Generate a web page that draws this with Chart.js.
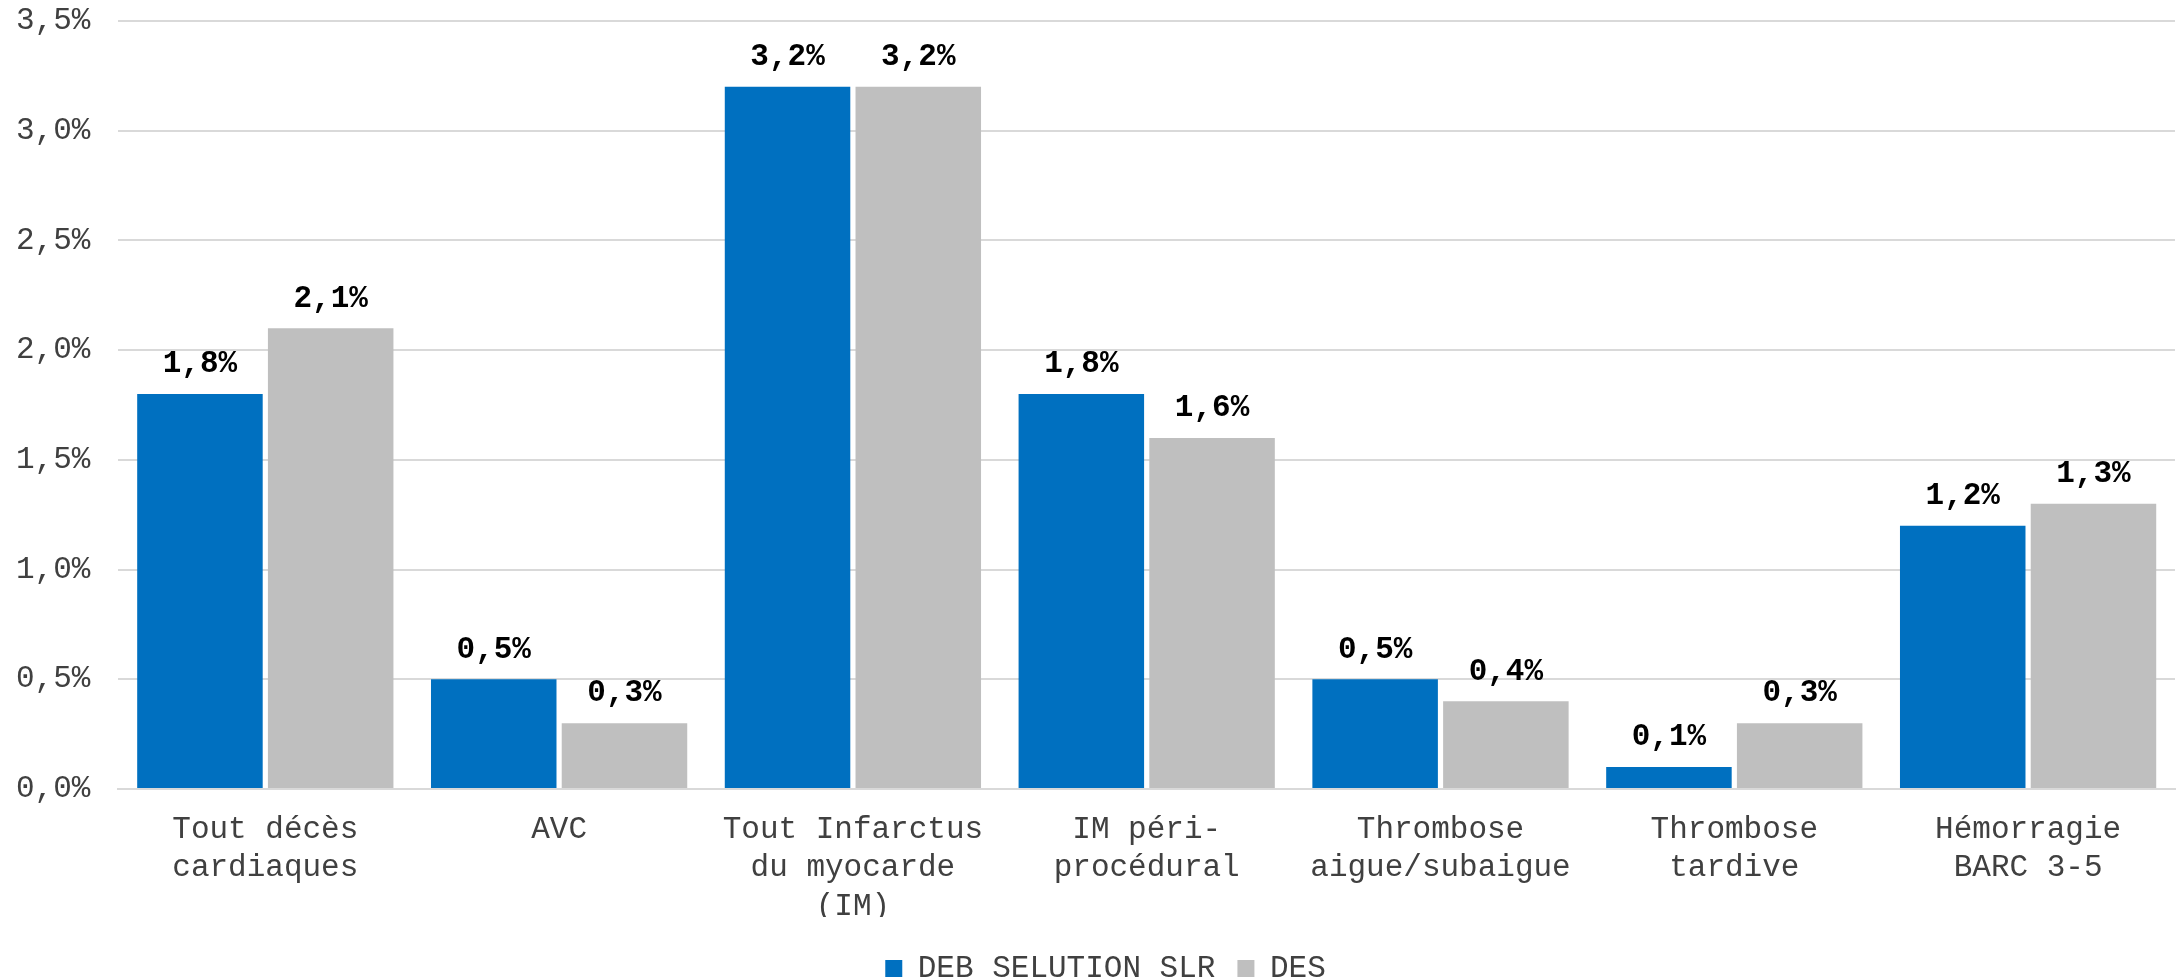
<!DOCTYPE html>
<html>
<head>
    <meta charset="UTF-8">
    <title>Événements cliniques</title>
    <script src="https://cdn.jsdelivr.net/npm/chart.js"></script>
    <style>
       html, body {
           margin: 0;
           padding: 0;
           background: #fff;
       }
       .chart-container {
           width: 2178px;
           height: 980px;
       }
   </style>
</head>
<body>
   <div class="chart-container">
       <canvas id="eventsChart"></canvas>
   </div>

    <script>
    // categories
    const categories = [
        ['Tout décès', 'cardiaques'],
        'AVC',
        ['Tout Infarctus', 'du myocarde', '(IM)'],
        ['IM péri-', 'procédural'],
        ['Thrombose', 'aigue/subaigue'],
        ['Thrombose', 'tardive'],
        ['Hémorragie', 'BARC 3-5']
    ];
    const seriesNames = ['DEB SELUTION SLR', 'DES'];
    const debValues = [1.8, 0.5, 3.2, 1.8, 0.5, 0.1, 1.2];
    const desValues = [2.1, 0.3, 3.2, 1.6, 0.4, 0.3, 1.3];
    const yTicks = [0, 0.5, 1.0, 1.5, 2.0, 2.5, 3.0, 3.5];

    const FONT = "'Liberation Mono', 'DejaVu Sans Mono', monospace";

    function fmt(v) {
        return v.toFixed(1).replace('.', ',') + '%';
    }

    // value labels above bars
    const valueLabels = {
        id: 'valueLabels',
        afterLayout(chart) {
            // push the legend a bit lower / right, like the original
            chart.legend.top += 14;
            chart.legend.bottom += 14;
            chart.legend.left += 24;
            chart.legend.right += 24;
        },
        afterDatasetsDraw(chart) {
            const ctx = chart.ctx;
            ctx.save();
            ctx.font = 'bold 31px ' + FONT;
            ctx.fillStyle = '#000';
            ctx.textAlign = 'center';
            ctx.textBaseline = 'bottom';
            chart.data.datasets.forEach((ds, i) => {
                chart.getDatasetMeta(i).data.forEach((bar, j) => {
                    ctx.fillText(fmt(ds.data[j]), bar.x, bar.y - 14);
                });
            });
            ctx.restore();
        }
    };

    Chart.defaults.font.family = FONT;
    Chart.defaults.font.size = 31;

    new Chart('eventsChart', {
        type: 'bar',
        data: {
            labels: categories,
            datasets: [{
                label: seriesNames[0],
                data: debValues,
                backgroundColor: '#0070C0'
            }, {
                label: seriesNames[1],
                data: desValues,
                backgroundColor: '#BFBFBF'
            }]
        },
        options: {
            maintainAspectRatio: false,
            animation: false,
            categoryPercentage: 0.89,
            barPercentage: 0.96,
            layout: {
                padding: { top: 0, right: 3, left: -12, bottom: 0 }
            },
            plugins: {
                legend: {
                    position: 'bottom',
                    labels: {
                        boxWidth: 17,
                        boxHeight: 17,
                        padding: 22,
                        color: '#404040',
                        font: { size: 31 }
                    }
                },
                tooltip: { enabled: false }
            },
            scales: {
                x: {
                    grid: { display: false },
                    border: { color: '#D9D9D9', width: 2 },
                    afterFit(axis) {
                        axis.height = 128;
                    },
                    ticks: {
                        color: '#404040',
                        padding: 13,
                        maxRotation: 0,
                        autoSkip: false,
                        font: { size: 31, lineHeight: 1.25 }
                    }
                },
                y: {
                    min: 0,
                    max: 3.5,
                    afterBuildTicks(axis) {
                        axis.ticks = yTicks.map(v => ({ value: v }));
                    },
                    afterFit(axis) {
                        axis.paddingTop = 21;
                    },
                    grid: { color: '#D9D9D9', lineWidth: 2, drawTicks: false },
                    border: { display: false },
                    ticks: {
                        color: '#404040',
                        padding: 28,
                        font: { size: 31 },
                        callback: v => fmt(v)
                    }
                }
            }
        },
        plugins: [valueLabels]
    });
    </script>
</body>
</html>
